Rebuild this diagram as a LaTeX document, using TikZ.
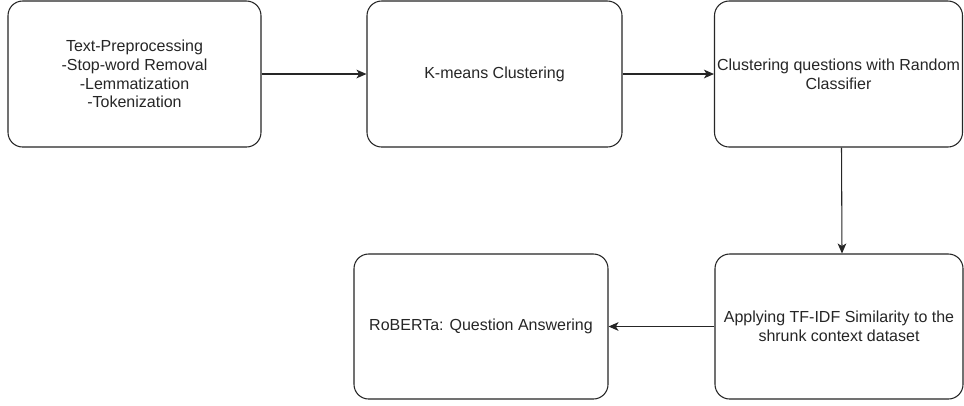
\documentclass[tikz,border=0pt]{standalone}
\usepackage{fontspec}
\setmainfont{Liberation Sans}
\usetikzlibrary{arrows.meta}
\begin{document}
\begin{tikzpicture}[x=0.75pt,y=-0.75pt,
  stepbox/.style={draw=black!85, line width=0.8pt, rounded corners=11pt,
    inner sep=0pt, align=center, font=\fontsize{12}{14}\selectfont, text=black!85},
  flow/.style={draw=black!85, line width=0.8pt, -{Stealth[length=7.5pt,width=6.5pt,inset=2pt]}}]
\path[fill=white] (0,0) rectangle (964,405);
\useasboundingbox (0,0) rectangle (964,405);
\node[stepbox, minimum width=253*0.75pt, minimum height=146*0.75pt] (pre) at (134.5,74)
  {Text-Preprocessing\\-Stop-word Removal\\-Lemmatization\\-Tokenization};
\node[stepbox, minimum width=255*0.75pt, minimum height=146*0.75pt] (km) at (494.5,74)
  {K-means Clustering};
\node[stepbox, minimum width=248*0.75pt, minimum height=146*0.75pt] (rc) at (838.5,74)
  {Clustering questions with Random\\Classifier};
\node[stepbox, minimum width=248*0.75pt, minimum height=145*0.75pt] (tf) at (839,326.5)
  {Applying TF-IDF Similarity to the\\shrunk context dataset};
\node[stepbox, minimum width=254*0.75pt, minimum height=145*0.75pt] (rb) at (481,326.5)
  {RoBERTa: Question Answering};
\draw[flow] (pre.east) -- (km.west);
\draw[flow] (km.east) -- (rc.west);
\draw[flow] ([xshift=3*0.75pt]rc.south) -- ([xshift=3*0.75pt]tf.north);
\draw[flow] (tf.west) -- (rb.east);
\end{tikzpicture}
\end{document}
